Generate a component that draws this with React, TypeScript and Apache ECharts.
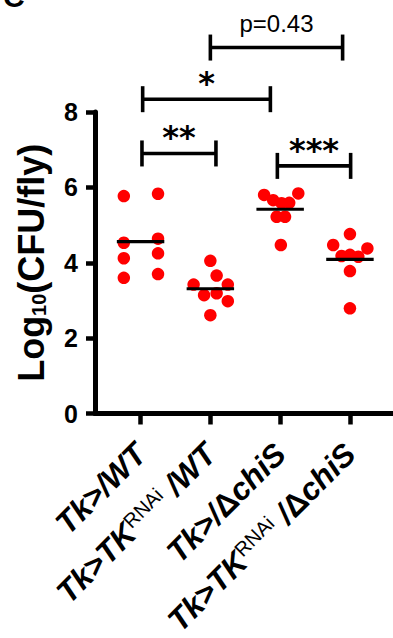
import { useEffect, useRef } from 'react';
import * as echarts from 'echarts';

// Category positions on the x value axis and their labels
const categoryPositions = [1, 2, 3, 4];
const categoryLabels = [
  '{i|Tk>/WT}',
  '{i|Tk>TK}{s|RNAi}{i| /WT}',
  '{i|Tk>/}{d|Δ}{i|chiS}',
  '{i|Tk>TK}{s|RNAi}{i| /}{d|Δ}{i|chiS}',
];

// Individual points (x = jittered category position, y = log10 CFU/fly)
const wtX = [0.76, 1.25, 0.76, 1.25, 0.76, 1.25, 0.76, 1.25];
const wtY = [5.77, 5.83, 4.53, 4.64, 4.12, 4.25, 3.6, 3.7];
const rnaiWtX = [2.0, 2.09, 1.76, 2.25, 1.91, 2.09, 2.25, 2.0];
const rnaiWtY = [4.05, 3.66, 3.42, 3.42, 3.14, 3.19, 2.98, 2.61];
const chiSX = [2.77, 3.26, 2.9, 3.02, 3.13, 2.95, 3.07, 3.01];
const chiSY = [5.8, 5.84, 5.66, 5.58, 5.59, 5.22, 5.22, 4.47];
const rnaiChiSX = [4.0, 3.76, 4.25, 3.88, 4.0, 4.12, 4.0, 4.0];
const rnaiChiSY = [4.76, 4.47, 4.38, 4.18, 4.21, 4.16, 3.78, 2.79];

// Median per group
const medians = [4.56, 3.31, 5.42, 4.09];

// Significance brackets
const bracketStart = [1.02, 1.03, 2.0, 2.96];
const bracketEnd = [2.08, 2.86, 3.895, 4.01];
const bracketLevel = [6.9, 8.34, 9.71, 6.57];
const bracketLabels = ['**', '*', 'p=0.43', '***'];

const FONT = '"Liberation Sans", Arial, Helvetica, sans-serif';

export default function App() {
  const ref = useRef<HTMLDivElement>(null);

  useEffect(() => {
    if (!ref.current) return;
    const chart = echarts.init(ref.current, undefined, { renderer: 'svg' });

    const points = [
      ...wtX.map((x, i) => [x, wtY[i]]),
      ...rnaiWtX.map((x, i) => [x, rnaiWtY[i]]),
      ...chiSX.map((x, i) => [x, chiSY[i]]),
      ...rnaiChiSX.map((x, i) => [x, rnaiChiSY[i]]),
    ];

    const option: any = {
      animation: false,
      backgroundColor: '#ffffff',
      grid: {
        left: 95,
        right: 0,
        top: 112,
        bottom: 224.5,
        containLabel: false,
        outerBoundsMode: 'none',
      },
      xAxis: {
        type: 'value',
        min: 0.347,
        max: 4.617,
        splitLine: { show: false },
        axisLine: { show: true, onZero: false, lineStyle: { color: '#000', width: 5 } },
        axisTick: {
          show: true,
          customValues: categoryPositions,
          length: 11,
          lineStyle: { color: '#000', width: 4.5 },
        },
        axisLabel: {
          show: true,
          customValues: categoryPositions,
          rotate: 45,
          margin: 35,
          formatter: (v: number) => {
            const idx = categoryPositions.indexOf(Math.round(v));
            return idx >= 0 ? categoryLabels[idx] : '';
          },
          rich: {
            i: { fontFamily: FONT, fontSize: 31.5, fontWeight: 'bold', fontStyle: 'italic', color: '#000', lineHeight: 31 },
            d: { fontFamily: FONT, fontSize: 31.5, fontWeight: 'bold', color: '#000', lineHeight: 31 },
            s: { fontFamily: FONT, fontSize: 20, color: '#000', lineHeight: 18, verticalAlign: 'top' },
          },
        },
      },
      yAxis: {
        type: 'value',
        min: 0,
        max: 8,
        interval: 2,
        splitLine: { show: false },
        axisLine: { show: true, lineStyle: { color: '#000', width: 5 } },
        axisTick: { show: true, length: 9, lineStyle: { color: '#000', width: 4.5 } },
        axisLabel: {
          margin: 17,
          fontFamily: FONT,
          fontSize: 25,
          fontWeight: 'bold',
          color: '#000',
        },
        name: '{b|Log}{sub|10}{b|(CFU/fly)}',
        nameLocation: 'middle',
        nameRotate: 90,
        nameGap: 46,
        nameTextStyle: {
          rich: {
            b: { fontFamily: FONT, fontSize: 36, fontWeight: 'bold', color: '#000', lineHeight: 36 },
            sub: { fontFamily: FONT, fontSize: 20, fontWeight: 'bold', color: '#000', lineHeight: 14, verticalAlign: 'bottom' },
          },
        },
      },
      graphic: [
        {
          type: 'text',
          left: 3,
          top: -19,
          style: { text: 'C', fontFamily: FONT, fontSize: 30, fontWeight: 'bold', fill: '#000' },
        },
      ],
      series: [
        {
          type: 'scatter',
          data: points,
          symbol: 'circle',
          symbolSize: 12.5,
          itemStyle: { color: '#ff0000', opacity: 1 },
          z: 2,
        },
        {
          type: 'custom',
          z: 3,
          data: categoryPositions.map((x, i) => [x, medians[i]]),
          renderItem: (_params: any, api: any) => {
            const x = api.value(0);
            const y = api.value(1);
            const a = api.coord([x - 0.34, y]);
            const b = api.coord([x + 0.34, y]);
            return {
              type: 'line',
              shape: { x1: a[0], y1: a[1], x2: b[0], y2: b[1] },
              style: { stroke: '#000', lineWidth: 3.2 },
            };
          },
        },
        {
          type: 'custom',
          z: 4,
          clip: false,
          data: bracketStart.map((s, i) => [s, bracketEnd[i], bracketLevel[i]]),
          renderItem: (params: any, api: any) => {
            const i = params.dataIndex;
            const p1 = api.coord([api.value(0), api.value(2)]);
            const p2 = api.coord([api.value(1), api.value(2)]);
            const h = 13;
            const label = bracketLabels[i];
            const isP = label.charAt(0) === 'p';
            const ls = { stroke: '#000', lineWidth: 3.6 };
            return {
              type: 'group',
              children: [
                { type: 'line', shape: { x1: p1[0], y1: p1[1], x2: p2[0], y2: p2[1] }, style: ls },
                { type: 'line', shape: { x1: p1[0], y1: p1[1] - h, x2: p1[0], y2: p1[1] + h }, style: ls },
                { type: 'line', shape: { x1: p2[0], y1: p2[1] - h, x2: p2[0], y2: p2[1] + h }, style: ls },
                {
                  type: 'text',
                  x: (p1[0] + p2[0]) / 2,
                  y: p1[1] - (isP ? 12 : 0),
                  style: {
                    text: label,
                    fontFamily: isP ? FONT : '"DejaVu Sans", sans-serif',
                    fontSize: isP ? 24 : 32,
                    fontWeight: isP ? 'normal' : 'bold',
                    fill: '#000',
                    align: 'center',
                    verticalAlign: 'bottom',
                  },
                },
              ],
            };
          },
        },
      ],
    };

    chart.setOption(option);
    return () => chart.dispose();
  }, []);

  return (
    <div
      ref={ref}
      style={{ position: 'fixed', left: 0, top: 0, width: 393, height: 638, background: '#fff' }}
    />
  );
}
